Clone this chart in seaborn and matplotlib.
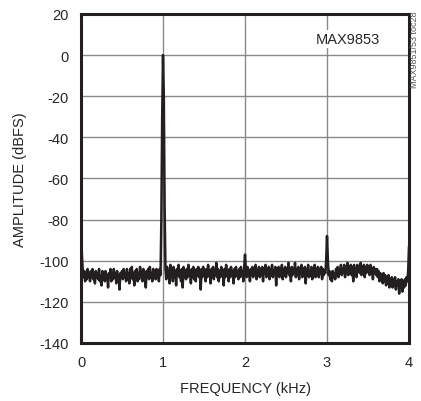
import numpy as np
import pandas as pd
import matplotlib
matplotlib.use("Agg")
import matplotlib.pyplot as plt
import seaborn as sns
from matplotlib import font_manager

# FFT of MAX9853, 1 kHz tone, amplitude in dBFS, bins every 0.01 kHz
freq_khz = np.round(np.arange(0, 401) * 0.01, 2)
amplitude_dbfs = [
    -80, -96, -104, -108, -105, -110, -106, -109, -104, -108,
    -106, -110, -105, -108, -104, -109, -107, -111, -105, -108,
    -106, -109, -104, -110, -107, -112, -105, -108, -106, -110,
    -105, -109, -107, -113, -106, -108, -104, -110, -106, -109,
    -104, -108, -106, -111, -105, -109, -107, -114, -106, -108,
    -105, -109, -104, -108, -106, -110, -104, -109, -106, -111,
    -104, -108, -103, -109, -106, -112, -105, -108, -104, -110,
    -106, -109, -103, -107, -105, -110, -104, -108, -106, -113,
    -105, -108, -104, -109, -103, -108, -106, -110, -104, -108,
    -105, -109, -104, -108, -106, -110, -104, -107, -80, -30,
    0, -20, -75, -104, -109, -103, -108, -105, -111, -102,
    -107, -104, -110, -103, -108, -105, -112, -104, -107, -102,
    -108, -105, -110, -104, -113, -103, -107, -105, -109, -104,
    -108, -102, -107, -105, -111, -104, -108, -103, -109, -106,
    -110, -104, -107, -103, -108, -105, -114, -104, -108, -103,
    -107, -105, -110, -104, -108, -102, -107, -105, -111, -104,
    -108, -103, -109, -105, -107, -101, -108, -104, -110, -105,
    -108, -103, -107, -105, -112, -104, -108, -102, -107, -105,
    -110, -104, -108, -103, -107, -105, -111, -104, -108, -103,
    -107, -105, -109, -104, -108, -103, -107, -105, -110, -103,
    -97, -104, -108, -103, -107, -105, -110, -104, -107, -103,
    -108, -104, -106, -102, -109, -105, -107, -103, -108, -104,
    -107, -103, -110, -104, -106, -102, -108, -105, -107, -103,
    -109, -104, -107, -102, -108, -105, -106, -103, -112, -104,
    -107, -103, -108, -104, -106, -102, -109, -104, -107, -103,
    -108, -104, -106, -101, -107, -105, -110, -103, -107, -104,
    -106, -101, -108, -104, -107, -103, -109, -104, -106, -102,
    -108, -104, -107, -103, -111, -104, -107, -102, -108, -105,
    -107, -103, -109, -104, -106, -102, -108, -104, -107, -103,
    -108, -104, -106, -103, -109, -104, -107, -105, -106, -100,
    -88, -99, -107, -105, -109, -106, -110, -105, -108, -106,
    -109, -104, -107, -103, -108, -104, -106, -102, -107, -104,
    -106, -102, -108, -104, -106, -101, -107, -103, -105, -102,
    -107, -103, -110, -102, -106, -104, -108, -102, -105, -103,
    -106, -101, -107, -103, -105, -102, -108, -103, -106, -102,
    -105, -103, -107, -102, -106, -104, -109, -103, -106, -104,
    -107, -104, -108, -105, -110, -106, -109, -107, -111, -106,
    -110, -107, -112, -108, -111, -107, -113, -109, -112, -108,
    -113, -109, -112, -108, -114, -110, -112, -109, -116, -110,
    -113, -109, -115, -110, -113, -109, -112, -108, -110, -105,
    -93,
]

x_ticks = [0, 1, 2, 3, 4]
y_ticks = [-140, -120, -100, -80, -60, -40, -20, 0, 20]

df = pd.DataFrame({"freq": freq_khz, "amp": amplitude_dbfs})

sns.set_theme(style="white")
names = {f.name for f in font_manager.fontManager.ttflist}
family = "Liberation Sans Narrow" if "Liberation Sans Narrow" in names else "Liberation Sans"
plt.rcParams["font.family"] = [family, "DejaVu Sans"]

fig = plt.figure(figsize=(4.21, 4.02), dpi=100)
ax = fig.add_axes([0.1924, 0.1443, 0.7791, 0.8184])

sns.lineplot(data=df, x="freq", y="amp", ax=ax, color="#231f20",
             linewidth=1.8, zorder=3)

ax.set_xlim(0, 4)
ax.set_ylim(-140, 20)
ax.set_xticks(x_ticks)
ax.set_yticks(y_ticks)
ax.set_xticklabels([str(t) for t in x_ticks], fontsize=10.5)
ax.set_yticklabels([str(t) for t in y_ticks], fontsize=10.5)
ax.tick_params(length=0, pad=9)
ax.grid(True, color="#8a8a8a", linewidth=1.0)
for s in ax.spines.values():
    s.set_linewidth(2.2)
    s.set_color("#231f20")
    s.set_zorder(4)

ax.set_xlabel("FREQUENCY (kHz)", fontsize=10.5, labelpad=8)
ax.set_ylabel("AMPLITUDE (dBFS)", fontsize=10.5, labelpad=9)

ax.text(0.815, 0.925, "MAX9853", transform=ax.transAxes, fontsize=10.5,
        ha="center", va="center", zorder=5,
        bbox=dict(facecolor="white", edgecolor="none", pad=1.5))
fig.text(0.984, 0.875, "MAX9851/53 toc28", rotation=90, fontsize=6.5,
         color="#555555", ha="center", va="center")

fig.savefig("out.png", dpi=100)
